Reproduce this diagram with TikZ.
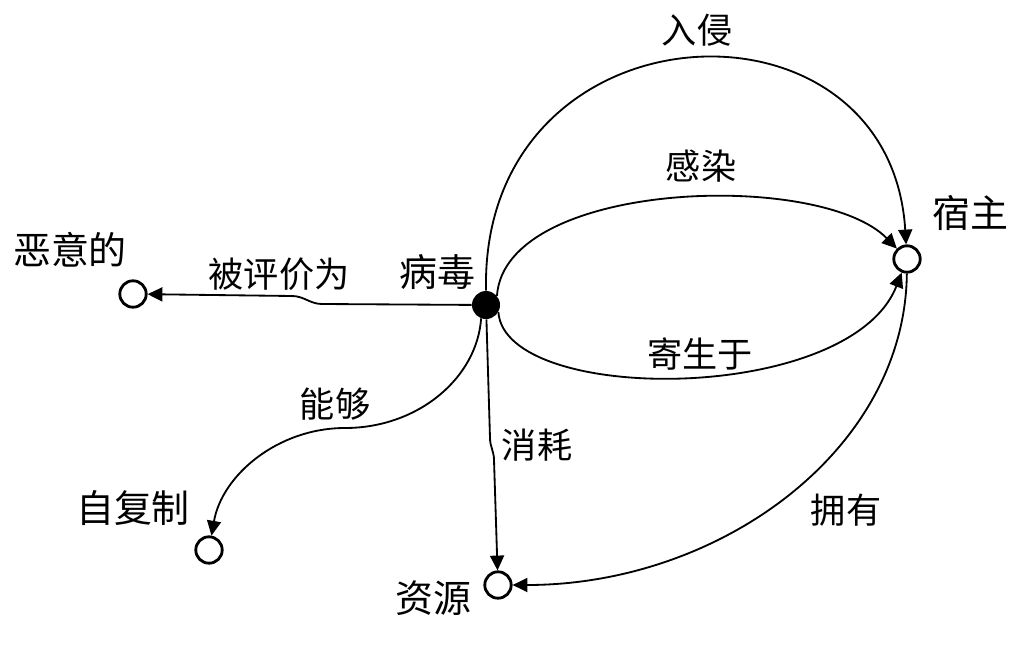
\documentclass[tikz,border=0pt]{standalone}
\usepackage{fontspec}
\setmainfont{Noto Sans CJK SC}
\usetikzlibrary{arrows.meta}

\begin{document}
\begin{tikzpicture}[x=0.025cm,y=-0.025cm,
    concept/.style={circle,draw,line width=2pt,fill=white,minimum size=0.66cm,inner sep=0pt},
    hub/.style={circle,fill=black,minimum size=0.7cm,inner sep=0pt},
    cname/.style={font=\fontsize{27}{30}\selectfont,inner sep=0pt},
    rel/.style={font=\fontsize{25}{28}\selectfont,inner sep=0pt},
    link/.style={line width=1.3pt,-{Triangle[length=0.37cm,width=0.35cm]}}]
    \useasboundingbox (0,0) rectangle (1018,650);
    %the concepts
    \node[hub] (virus) at (486,305) {};
    \node[concept] (evil) at (133,294) {};
    \node[concept] (host) at (907,259) {};
    \node[concept] (selfrep) at (209,550) {};
    \node[concept] (res) at (498,585) {};
    \node[cname] (virusname) at (437,272) {病毒};
    \node[cname] (evilname) at (70,250) {恶意的};
    \node[cname] (hostname) at (970,213) {宿主};
    \node[cname] (selfrepname) at (133,508) {自复制};
    \node[cname] (resname) at (433,598) {资源};
    %relations
    \draw[link] (virus.north) .. controls (480,0) and (890,-20) .. (host);
    \draw[link] (virus.40) .. controls (505,180) and (820,170) .. (host);
    \draw[link] (virus.-30) .. controls (505,405) and (850,405) .. (host);
    \draw[link] (virus) -- (322,304) to[out=180,in=0] (292,296) -- (evil);
    \draw[link] (virus.-110) .. controls (477,378) and (418,428) .. (345,428)
        .. controls (278,428) and (222,475) .. (selfrep);
    \draw[link] (virus) -- (490,438) to[out=-90,in=90] (494,460) -- (res);
    \draw[link] (host) .. controls (905,450) and (720,585) .. (res);
    \node[rel] (invade) at (697,30) {入侵};
    \node[rel] (infect) at (701,166) {感染};
    \node[rel] (parasite) at (700,354) {寄生于};
    \node[rel] (judged) at (279,274) {被评价为};
    \node[rel] (able) at (335,404) {能够};
    \node[rel] (consume) at (537,445) {消耗};
    \node[rel] (own) at (846,510) {拥有};
\end{tikzpicture}
\end{document}
